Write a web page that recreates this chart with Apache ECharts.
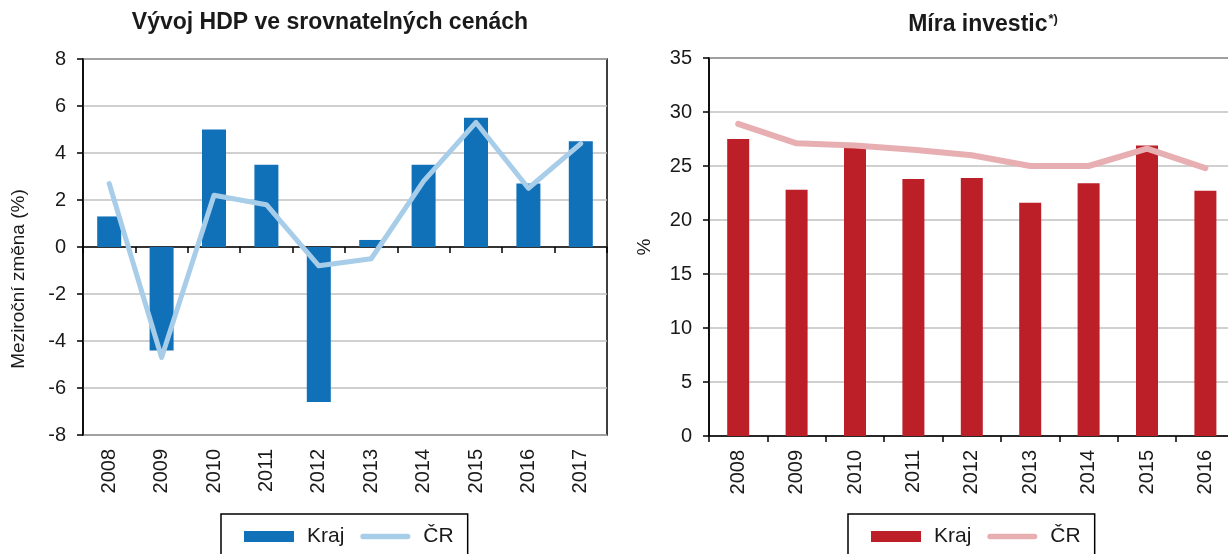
<!DOCTYPE html>
<html>
<head>
<meta charset="utf-8">
<script src="https://cdn.jsdelivr.net/npm/echarts@6/dist/echarts.min.js"></script>
<style>
  html, body { margin: 0; padding: 0; background: #fff; }
  #chart { width: 1228px; height: 554px; }
</style>
</head>
<body>
<div id="chart"></div>
<script>
// data
var years = ['2008', '2009', '2010', '2011', '2012', '2013', '2014', '2015', '2016', '2017']
var hdpKraj = [1.3, -4.4, 5.0, 3.5, -6.6, 0.3, 3.5, 5.5, 2.7, 4.5]
var hdpCR = [2.7, -4.7, 2.2, 1.8, -0.8, -0.5, 2.8, 5.3, 2.5, 4.4]
var invKraj = [27.5, 22.8, 26.7, 23.8, 23.9, 21.6, 23.4, 26.9, 22.7, null]
var invCR = [28.9, 27.1, 26.9, 26.5, 26.0, 25.0, 25.0, 26.6, 24.8, null]

var font = "'Liberation Sans', Arial, sans-serif"
var txt = '#1a1a1a'
var gridLine = { show: true, lineStyle: { color: '#c0c0c0', width: 1.5 } }
var lineIcon = 'path://M3,0 L54,0 A3,3 0 0 1 54,6 L3,6 A3,3 0 0 1 3,0 Z'

const myChart = echarts.init(document.getElementById('chart'))

function legendBox (left, names) {
  return {
    left: left,
    top: 514,
    padding: [12, 14, 24, 23],
    itemGap: 16,
    itemWidth: 50,
    itemHeight: 11,
    borderColor: '#000',
    borderWidth: 1.5,
    textStyle: { fontSize: 21, color: txt, fontFamily: font, padding: [0, 0, 0, 8] },
    data: [
      { name: names[0], icon: 'rect' },
      { name: names[1], icon: lineIcon }
    ],
    formatter: function (n) { return n.trim() }
  }
}

myChart.setOption({
  animation: false,
  textStyle: { fontFamily: font, color: txt },
  title: [
    {
      text: 'Vývoj HDP ve srovnatelných cenách',
      left: 330,
      top: 11,
      padding: 0,
      textAlign: 'center',
      textStyle: { fontSize: 23, fontWeight: 'bold', color: txt, fontFamily: font }
    },
    {
      text: '{m|Míra investic}{s|*)}',
      left: 983,
      top: 13,
      padding: 0,
      textAlign: 'center',
      textStyle: {
        rich: {
          m: { fontSize: 23, fontWeight: 'bold', color: txt, fontFamily: font },
          s: { fontSize: 13, fontWeight: 'bold', color: txt, fontFamily: font, verticalAlign: 'top', padding: [0, 0, 10, 1] }
        }
      }
    }
  ],
  legend: [
    legendBox(221, ['Kraj', 'ČR']),
    legendBox(848, ['Kraj ', 'ČR '])
  ],
  grid: [
    { left: 83, top: 59, width: 524, height: 376, outerBoundsMode: 'none', show: true, borderColor: '#000', borderWidth: 1.5 },
    { left: 709, top: 58, width: 584, height: 378, outerBoundsMode: 'none', show: true, borderColor: '#000', borderWidth: 1.5 }
  ],
  xAxis: [
    {
      // zero line with ticks
      gridIndex: 0,
      type: 'category',
      data: years,
      axisLine: { onZero: true, lineStyle: { color: '#000', width: 1.5 } },
      axisTick: { show: true, length: 6, lineStyle: { color: '#000', width: 1.5 } },
      axisLabel: { show: false }
    },
    {
      gridIndex: 1,
      type: 'category',
      data: years,
      axisLine: { lineStyle: { color: '#000', width: 1.5 } },
      axisTick: { show: true, length: 6, lineStyle: { color: '#000', width: 1.5 } },
      axisLabel: { rotate: 90, margin: 14, fontSize: 20, color: txt, fontFamily: font }
    },
    {
      // year labels under the left plot
      gridIndex: 0,
      type: 'category',
      position: 'bottom',
      data: years,
      axisLine: { show: false, onZero: false },
      axisTick: { show: false },
      axisLabel: { rotate: 90, margin: 14, fontSize: 20, color: txt, fontFamily: font }
    }
  ],
  yAxis: [
    {
      gridIndex: 0,
      type: 'value',
      min: -8,
      max: 8,
      interval: 2,
      name: 'Meziroční změna (%)',
      nameLocation: 'middle',
      nameGap: 55,
      nameTextStyle: { fontSize: 19, color: txt, fontFamily: font, padding: [0, 64, 0, 0] },
      axisLine: { show: true, lineStyle: { color: '#000', width: 1.5 } },
      axisTick: { show: true, length: 6, lineStyle: { color: '#000', width: 1.5 } },
      axisLabel: { fontSize: 20, margin: 17, color: txt, fontFamily: font },
      splitLine: gridLine
    },
    {
      gridIndex: 1,
      type: 'value',
      min: 0,
      max: 35,
      interval: 5,
      name: '%',
      nameLocation: 'middle',
      nameGap: 55,
      nameTextStyle: { fontSize: 19, color: txt, fontFamily: font },
      axisLine: { show: true, lineStyle: { color: '#000', width: 1.5 } },
      axisTick: { show: true, length: 6, lineStyle: { color: '#000', width: 1.5 } },
      axisLabel: { fontSize: 20, margin: 17, color: txt, fontFamily: font },
      splitLine: gridLine
    }
  ],
  series: [
    {
      name: 'Kraj',
      type: 'bar',
      xAxisIndex: 0,
      yAxisIndex: 0,
      barWidth: 24,
      itemStyle: { color: '#1071b9' },
      data: hdpKraj
    },
    {
      name: 'ČR',
      type: 'line',
      xAxisIndex: 0,
      yAxisIndex: 0,
      symbol: 'none',
      lineStyle: { color: '#a7cde9', width: 5, cap: 'round', join: 'round' },
      itemStyle: { color: '#a7cde9' },
      data: hdpCR
    },
    {
      name: 'Kraj ',
      type: 'bar',
      xAxisIndex: 1,
      yAxisIndex: 1,
      barWidth: 22,
      itemStyle: { color: '#bd1f29' },
      data: invKraj
    },
    {
      name: 'ČR ',
      type: 'line',
      xAxisIndex: 1,
      yAxisIndex: 1,
      symbol: 'none',
      lineStyle: { color: '#e8afb2', width: 6, cap: 'round', join: 'round' },
      itemStyle: { color: '#e8afb2' },
      data: invCR
    }
  ]
})
</script>
</body>
</html>
